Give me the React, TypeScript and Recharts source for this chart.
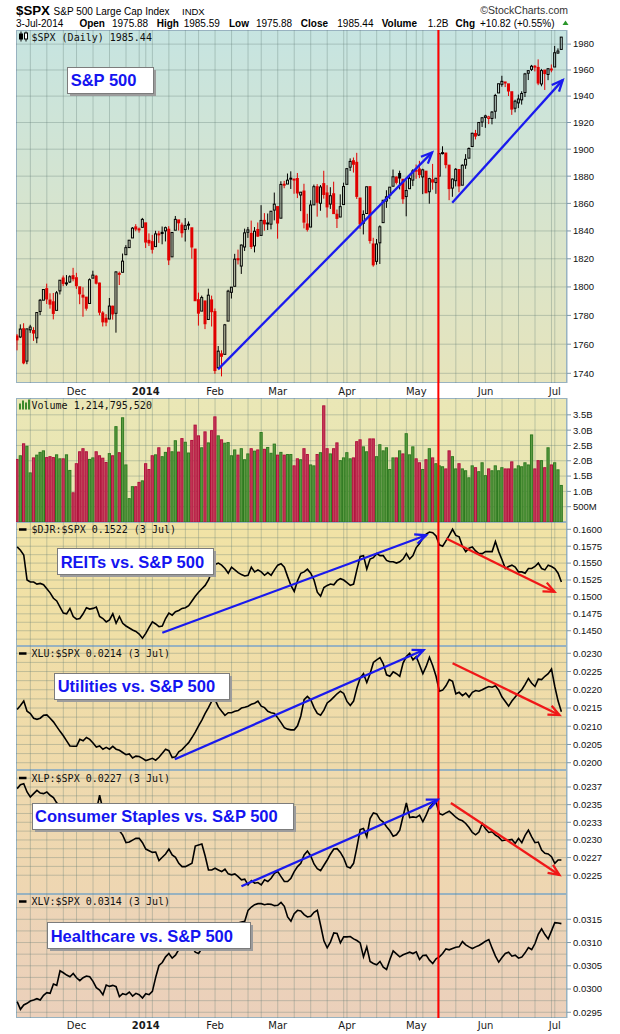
import React from "react";
import {
  Bar,
  CartesianGrid,
  ComposedChart,
  Line,
  ReferenceLine,
  XAxis,
  YAxis,
} from "recharts";

// trading sessions shown, 5-Nov-2013 .. 3-Jul-2014 (year, month index, days)
const SESSIONS: [number, number, number[]][] = [
  [2013, 10, [5, 6, 7, 8, 11, 12, 13, 14, 15, 18, 19, 20, 21, 22, 25, 26, 27, 29]],
  [2013, 11, [2, 3, 4, 5, 6, 9, 10, 11, 12, 13, 16, 17, 18, 19, 20, 23, 24, 26, 27, 30, 31]],
  [2014, 0, [2, 3, 6, 7, 8, 9, 10, 13, 14, 15, 16, 17, 21, 22, 23, 24, 27, 28, 29, 30, 31]],
  [2014, 1, [3, 4, 5, 6, 7, 10, 11, 12, 13, 14, 18, 19, 20, 21, 24, 25, 26, 27, 28]],
  [2014, 2, [3, 4, 5, 6, 7, 10, 11, 12, 13, 14, 17, 18, 19, 20, 21, 24, 25, 26, 27, 28, 31]],
  [2014, 3, [1, 2, 3, 4, 7, 8, 9, 10, 11, 14, 15, 16, 17, 21, 22, 23, 24, 25, 28, 29, 30]],
  [2014, 4, [1, 2, 5, 6, 7, 8, 9, 12, 13, 14, 15, 16, 19, 20, 21, 22, 23, 27, 28, 29, 30]],
  [2014, 5, [2, 3, 4, 5, 6, 9, 10, 11, 12, 13, 16, 17, 18, 19, 20, 23, 24, 25, 26, 27, 30]],
  [2014, 6, [1, 2, 3]],
];
const MONTH_LABELS = ["", "Dec", "2014", "Feb", "Mar", "Apr", "May", "Jun", "Jul"];

const PREV_CLOSE = 1767.93;

const OPEN = [
  1765.67, 1765.0, 1770.74, 1748.37, 1769.96, 1769.51, 1764.37, 1782.75, 1790.66, 1798.82, 1790.79, 1789.59, 1783.52, 1797.21, 1806.33, 1802.87, 1803.48, 1808.01,
  1806.55, 1800.1, 1794.15, 1792.82, 1788.36, 1806.21, 1807.6, 1802.76, 1781.71, 1777.98, 1777.48, 1786.47, 1781.46, 1809.0, 1810.39, 1822.92, 1828.02, 1834.96, 1842.97, 1841.47, 1842.61,
  1845.86, 1833.21, 1832.31, 1828.71, 1837.9, 1839.0, 1840.06, 1841.26, 1821.36, 1840.52, 1847.99, 1844.23, 1841.05, 1844.71, 1842.29, 1826.96, 1791.03, 1783.0, 1790.15, 1777.17, 1790.88,
  1782.68, 1743.82, 1753.38, 1752.99, 1776.01, 1796.2, 1800.45, 1820.12, 1814.82, 1828.46, 1839.03, 1838.22, 1829.24, 1841.07, 1836.78, 1847.66, 1845.79, 1844.9, 1855.12,
  1857.68, 1849.23, 1874.05, 1874.18, 1878.52, 1877.86, 1878.26, 1866.15, 1869.06, 1845.07, 1842.81, 1858.92, 1872.25, 1860.09, 1874.53, 1867.67, 1859.48, 1867.09, 1852.11, 1850.07, 1859.16,
  1873.96, 1886.61, 1891.43, 1890.25, 1863.92, 1845.48, 1852.64, 1872.28, 1830.65, 1818.18, 1831.45, 1846.01, 1861.73, 1865.79, 1872.57, 1879.32, 1881.97, 1877.72, 1865.0, 1870.78, 1877.1,
  1884.39, 1885.3, 1879.45, 1883.69, 1868.53, 1877.39, 1875.27, 1880.03, 1896.75, 1897.13, 1888.16, 1871.19, 1876.66, 1884.88, 1873.34, 1888.19, 1893.32, 1902.01, 1911.77, 1910.6, 1920.33,
  1923.87, 1923.07, 1923.06, 1928.52, 1942.41, 1948.97, 1950.34, 1949.37, 1943.35, 1930.8, 1934.84, 1937.15, 1942.73, 1957.5, 1960.45, 1962.92, 1961.97, 1949.27, 1959.89, 1956.56, 1960.79,
  1962.29, 1973.06, 1975.88,
];
const HIGH = [
  1767.03, 1773.74, 1774.54, 1770.78, 1773.44, 1771.78, 1782.0, 1791.53, 1798.22, 1802.33, 1795.51, 1795.73, 1797.16, 1804.84, 1808.1, 1808.42, 1808.27, 1813.55,
  1810.02, 1800.1, 1799.8, 1792.82, 1806.04, 1811.52, 1808.52, 1803.0, 1782.99, 1780.92, 1792.22, 1786.77, 1811.08, 1810.88, 1823.75, 1829.75, 1833.32, 1842.84, 1844.89, 1842.47, 1849.44,
  1845.86, 1838.24, 1837.16, 1840.1, 1840.02, 1843.23, 1843.15, 1843.45, 1839.26, 1850.84, 1847.99, 1846.04, 1849.31, 1846.87, 1842.29, 1826.96, 1795.98, 1793.87, 1790.15, 1798.77, 1793.88,
  1784.83, 1758.73, 1755.79, 1774.06, 1798.03, 1799.94, 1823.54, 1826.55, 1830.25, 1841.65, 1842.87, 1847.5, 1842.79, 1846.13, 1858.71, 1852.91, 1852.65, 1854.53, 1867.92,
  1857.68, 1876.23, 1876.53, 1881.94, 1883.57, 1877.87, 1882.35, 1868.38, 1874.4, 1852.44, 1862.3, 1873.76, 1874.14, 1873.49, 1883.97, 1873.34, 1871.87, 1875.92, 1855.55, 1866.63, 1875.18,
  1885.84, 1893.17, 1893.8, 1897.28, 1864.04, 1854.95, 1872.43, 1872.53, 1835.07, 1834.19, 1844.02, 1862.31, 1869.63, 1871.89, 1884.89, 1879.75, 1884.06, 1877.72, 1877.01, 1880.6, 1885.2,
  1888.59, 1891.33, 1885.51, 1883.69, 1878.83, 1889.07, 1878.57, 1897.13, 1902.17, 1897.13, 1888.16, 1878.28, 1886.0, 1884.88, 1888.8, 1896.33, 1901.26, 1912.28, 1914.46, 1920.03, 1924.03,
  1925.88, 1925.07, 1928.63, 1941.74, 1949.44, 1955.55, 1950.86, 1949.37, 1943.35, 1937.3, 1941.15, 1943.69, 1957.74, 1959.87, 1963.91, 1963.74, 1968.17, 1960.83, 1959.89, 1961.47, 1964.24,
  1978.58, 1976.67, 1985.59,
];
const LOW = [
  1755.76, 1764.23, 1746.2, 1746.23, 1767.85, 1762.29, 1760.64, 1780.22, 1790.66, 1788.0, 1784.72, 1777.23, 1783.52, 1794.7, 1800.58, 1800.77, 1802.77, 1803.98,
  1798.6, 1787.85, 1779.09, 1783.38, 1788.36, 1806.21, 1801.75, 1780.09, 1772.28, 1772.45, 1777.48, 1777.05, 1767.99, 1801.35, 1810.25, 1822.92, 1828.02, 1834.96, 1839.81, 1838.77, 1842.41,
  1827.74, 1829.13, 1823.73, 1828.71, 1831.4, 1830.38, 1832.43, 1815.52, 1821.36, 1840.52, 1840.3, 1835.23, 1832.38, 1840.88, 1820.06, 1790.29, 1772.88, 1783.0, 1770.45, 1777.17, 1772.26,
  1739.66, 1743.82, 1737.92, 1752.99, 1776.01, 1791.83, 1800.41, 1815.97, 1809.22, 1825.59, 1835.01, 1826.99, 1824.58, 1835.6, 1836.78, 1840.19, 1840.66, 1841.13, 1847.67,
  1834.44, 1849.23, 1871.11, 1874.18, 1870.56, 1867.04, 1863.88, 1854.38, 1841.86, 1839.57, 1842.81, 1858.92, 1850.35, 1854.63, 1863.46, 1849.69, 1855.96, 1852.56, 1842.11, 1850.07, 1859.16,
  1873.96, 1883.79, 1882.65, 1863.26, 1841.48, 1837.49, 1852.38, 1830.87, 1814.36, 1815.8, 1816.29, 1846.01, 1856.72, 1863.18, 1872.57, 1873.91, 1870.24, 1859.7, 1850.61, 1870.78, 1872.69,
  1878.04, 1878.5, 1866.77, 1867.72, 1859.79, 1870.05, 1867.02, 1880.03, 1896.06, 1885.77, 1862.36, 1864.82, 1872.42, 1868.14, 1873.34, 1885.39, 1893.32, 1902.01, 1907.3, 1909.82, 1916.64,
  1915.98, 1918.79, 1918.6, 1922.93, 1942.41, 1947.16, 1946.87, 1940.08, 1925.78, 1927.69, 1930.91, 1933.55, 1939.29, 1952.26, 1959.17, 1958.89, 1948.34, 1947.49, 1944.69, 1952.18, 1958.22,
  1962.29, 1972.58, 1975.88,
];
const CLOSE = [
  1762.97, 1770.49, 1747.15, 1770.61, 1771.89, 1767.69, 1782.0, 1790.62, 1798.18, 1791.53, 1787.87, 1781.37, 1795.85, 1804.76, 1802.48, 1802.75, 1807.23, 1805.81,
  1800.9, 1795.15, 1792.81, 1785.03, 1805.09, 1808.37, 1802.62, 1782.22, 1775.5, 1775.32, 1786.54, 1781.0, 1810.65, 1809.6, 1818.32, 1827.99, 1833.32, 1842.02, 1841.4, 1841.07, 1848.36,
  1831.98, 1831.37, 1826.77, 1837.88, 1837.49, 1838.13, 1842.37, 1819.2, 1838.88, 1848.38, 1845.89, 1838.7, 1843.8, 1844.86, 1828.46, 1790.29, 1781.56, 1792.5, 1774.2, 1794.19, 1782.59,
  1741.89, 1755.2, 1751.64, 1773.43, 1797.02, 1799.84, 1819.75, 1819.26, 1829.83, 1838.63, 1840.76, 1828.75, 1839.78, 1836.25, 1847.61, 1845.12, 1845.16, 1854.29, 1859.45,
  1845.73, 1873.91, 1873.81, 1877.03, 1878.04, 1877.17, 1867.63, 1868.2, 1846.34, 1841.13, 1858.83, 1872.25, 1860.77, 1872.01, 1866.52, 1857.44, 1865.62, 1852.56, 1849.04, 1857.62, 1872.34,
  1885.52, 1890.9, 1888.77, 1865.09, 1845.04, 1851.96, 1872.18, 1833.08, 1815.69, 1830.61, 1842.98, 1862.31, 1864.85, 1871.89, 1879.55, 1875.39, 1878.61, 1863.4, 1869.43, 1878.33, 1883.95,
  1883.68, 1881.14, 1884.66, 1867.72, 1878.21, 1875.63, 1878.48, 1896.65, 1897.45, 1888.53, 1870.85, 1877.86, 1885.08, 1872.83, 1888.03, 1892.49, 1900.53, 1911.91, 1909.78, 1920.03, 1923.57,
  1924.97, 1924.24, 1927.88, 1940.46, 1949.44, 1951.27, 1950.79, 1943.89, 1930.11, 1936.16, 1937.78, 1941.99, 1956.98, 1959.48, 1962.87, 1962.61, 1949.98, 1959.53, 1957.22, 1960.96, 1960.23,
  1973.32, 1974.62, 1985.44,
];
// billions of shares
const VOLUME = [
  2.06, 2.18, 2.57, 2.49, 1.62, 2.11, 2.2, 2.29, 2.34, 2.12, 2.15, 2.12, 2.21, 2.08, 2.08, 2.21, 1.7, 0.97,
  1.92, 2.31, 2.41, 2.31, 2.06, 2.11, 2.31, 2.18, 2.1, 1.96, 2.25, 2.18, 3.13, 2.28, 3.42, 1.88, 0.78, 1.17, 1.17, 1.31, 1.36,
  1.92, 1.73, 2.18, 2.21, 2.44, 2.15, 2.29, 2.44, 2.31, 2.67, 2.3, 2.74, 2.62, 2.27, 2.68, 3.18, 2.83, 2.44, 2.96, 2.6, 3.0,
  3.45, 2.83, 2.7, 2.59, 2.61, 2.18, 2.37, 2.2, 2.41, 2.05, 2.24, 2.41, 2.33, 2.37, 2.94, 2.39, 2.45, 2.26, 2.56,
  2.2, 2.29, 2.2, 2.22, 2.22, 1.85, 2.08, 2.05, 2.41, 2.22, 1.88, 1.85, 2.22, 2.28, 3.81, 2.41, 2.24, 2.41, 2.6, 2.02, 2.11,
  2.28, 2.08, 2.11, 2.64, 2.7, 2.47, 2.31, 2.73, 2.73, 2.15, 2.54, 2.34, 2.44, 1.73, 2.11, 2.11, 2.34, 2.24, 2.9, 2.21, 2.47,
  2.08, 1.95, 1.73, 2.05, 2.41, 2.11, 1.92, 1.85, 1.82, 1.75, 2.34, 2.15, 1.75, 1.92, 1.75, 1.69, 1.46, 1.85, 1.79, 1.66, 1.95,
  1.53, 1.75, 1.69, 1.85, 1.69, 1.79, 1.75, 1.75, 1.98, 1.75, 1.85, 1.82, 1.95, 1.88, 2.86, 1.75, 2.02, 2.02, 1.79, 2.44, 1.88,
  1.95, 1.72, 1.21,
];
const DJR_SPX = [
  0.1574, 0.1569, 0.1562, 0.1525, 0.1522, 0.1522, 0.1519, 0.152, 0.1518, 0.1512, 0.1506, 0.1498, 0.1494, 0.1485, 0.1476, 0.1475, 0.1483, 0.1471,
  0.1467, 0.1468, 0.1475, 0.1484, 0.1482, 0.1483, 0.1485, 0.1471, 0.1468, 0.1463, 0.1466, 0.1475, 0.1461, 0.1471, 0.1461, 0.1457, 0.1454, 0.1451, 0.1449, 0.1445, 0.1439,
  0.1446, 0.1455, 0.1463, 0.146, 0.1456, 0.1457, 0.1468, 0.1476, 0.1473, 0.1478, 0.148, 0.1483, 0.1484, 0.1487, 0.1494, 0.1501, 0.1507, 0.1512, 0.1517, 0.1525, 0.1537,
  0.1548, 0.155, 0.1547, 0.1542, 0.1535, 0.1544, 0.154, 0.1536, 0.1533, 0.1531, 0.1532, 0.1544, 0.1537, 0.154, 0.1537, 0.1532, 0.1536, 0.1532, 0.154,
  0.1547, 0.1549, 0.1544, 0.153, 0.1517, 0.1508, 0.1524, 0.1535, 0.1537, 0.1541, 0.1535, 0.1525, 0.1507, 0.1501, 0.1514, 0.1517, 0.1519, 0.1518, 0.1524, 0.1527, 0.1525,
  0.1521, 0.1517, 0.1519, 0.154, 0.156, 0.1561, 0.1541, 0.1556, 0.1558, 0.1564, 0.1561, 0.1561, 0.1554, 0.1552, 0.1552, 0.155, 0.1552, 0.1556, 0.1564, 0.1556, 0.1561,
  0.1573, 0.1579, 0.1587, 0.1593, 0.1596, 0.1595, 0.159, 0.1577, 0.1575, 0.1583, 0.1591, 0.16, 0.1591, 0.1589, 0.1575, 0.1567, 0.1572, 0.1574, 0.1568, 0.1564, 0.1564,
  0.1567, 0.1567, 0.1567, 0.1582, 0.1567, 0.1555, 0.1542, 0.1545, 0.1547, 0.1544, 0.1537, 0.1537, 0.1535, 0.1542, 0.1542, 0.1545, 0.155, 0.1542, 0.154, 0.1547, 0.1545,
  0.1542, 0.1535, 0.1522,
];
const XLU_SPX = [
  0.02146, 0.02157, 0.02169, 0.02141, 0.02135, 0.02122, 0.02119, 0.02122, 0.0213, 0.02131, 0.02122, 0.02112, 0.02099, 0.02086, 0.02074, 0.0206, 0.02046, 0.02045,
  0.02045, 0.02064, 0.0206, 0.02069, 0.02064, 0.02054, 0.02043, 0.02046, 0.02037, 0.02042, 0.02037, 0.02045, 0.02037, 0.02034, 0.02028, 0.02022, 0.02024, 0.02013, 0.02018, 0.02017, 0.02012,
  0.02006, 0.02009, 0.02012, 0.02007, 0.02015, 0.02026, 0.02037, 0.02033, 0.02014, 0.02016, 0.0203, 0.02036, 0.02046, 0.02055, 0.02069, 0.02084, 0.02101, 0.02117, 0.02135, 0.02151, 0.02169,
  0.02173, 0.02153, 0.02141, 0.0213, 0.02137, 0.02137, 0.02141, 0.02143, 0.0215, 0.02152, 0.02155, 0.0216, 0.02163, 0.02169, 0.02155, 0.02151, 0.02141, 0.02137, 0.02135,
  0.02123, 0.0211, 0.02096, 0.02092, 0.0209, 0.0209, 0.02101, 0.02128, 0.02173, 0.02182, 0.02173, 0.02151, 0.02135, 0.0213, 0.02144, 0.02164, 0.02171, 0.0218, 0.02189, 0.02196, 0.0219,
  0.02168, 0.02157, 0.02169, 0.02205, 0.02232, 0.02244, 0.0222, 0.02244, 0.02275, 0.02282, 0.02288, 0.02271, 0.02241, 0.02237, 0.02249, 0.02244, 0.02237, 0.02273, 0.02291, 0.023, 0.02282,
  0.02291, 0.02268, 0.02244, 0.02264, 0.02289, 0.02266, 0.02237, 0.02196, 0.02199, 0.02211, 0.02228, 0.02223, 0.02189, 0.02193, 0.02184, 0.02191, 0.0218, 0.02193, 0.02198, 0.02196, 0.022,
  0.02205, 0.02209, 0.02207, 0.02211, 0.02199, 0.0218, 0.02168, 0.02155, 0.02169, 0.0218, 0.02191, 0.022, 0.02215, 0.02231, 0.02218, 0.02209, 0.02229, 0.02228, 0.02237, 0.02244, 0.02257,
  0.02209, 0.02169, 0.0214,
];
const XLP_SPX = [
  0.023727, 0.023783, 0.023797, 0.02368, 0.023609, 0.023656, 0.023703, 0.023665, 0.023656, 0.02368, 0.023633, 0.0236, 0.023524, 0.023492, 0.023459, 0.023477, 0.023421, 0.02344,
  0.023398, 0.023374, 0.023412, 0.023355, 0.023365, 0.023383, 0.023412, 0.023633, 0.02343, 0.023374, 0.023304, 0.023242, 0.023139, 0.02313, 0.023069, 0.022961, 0.02297, 0.022998, 0.023022, 0.023022, 0.022961,
  0.022871, 0.022848, 0.022824, 0.022829, 0.022707, 0.022754, 0.022801, 0.022871, 0.022787, 0.022754, 0.022669, 0.022622, 0.022622, 0.022646, 0.022669, 0.022914, 0.022928, 0.022942, 0.022773, 0.022575, 0.022575,
  0.022599, 0.022575, 0.022552, 0.022585, 0.022519, 0.022505, 0.022519, 0.022481, 0.022434, 0.022444, 0.022364, 0.022425, 0.022387, 0.022397, 0.022364, 0.022434, 0.022411, 0.022458, 0.022528,
  0.022552, 0.022481, 0.022411, 0.022411, 0.022458, 0.022552, 0.022622, 0.022669, 0.022787, 0.022843, 0.022773, 0.02266, 0.022594, 0.022566, 0.022641, 0.022716, 0.022801, 0.022871, 0.022876, 0.022824, 0.022744,
  0.022622, 0.022603, 0.022669, 0.022895, 0.023148, 0.023163, 0.023045, 0.023304, 0.023383, 0.023369, 0.023289, 0.023252, 0.023186, 0.02313, 0.023054, 0.023073, 0.023139, 0.023336, 0.023524, 0.023318, 0.023327,
  0.023318, 0.023351, 0.023257, 0.023351, 0.023459, 0.023515, 0.023534, 0.023374, 0.023355, 0.023383, 0.023407, 0.023365, 0.023322, 0.023289, 0.023271, 0.023233, 0.023177, 0.023106, 0.023073, 0.023111, 0.023233,
  0.023158, 0.023106, 0.023116, 0.023069, 0.02304, 0.022989, 0.022998, 0.022998, 0.023008, 0.022951, 0.023022, 0.022961, 0.023064, 0.023139, 0.023045, 0.022961, 0.02297, 0.022857, 0.02281, 0.022801, 0.022763,
  0.022669, 0.022716, 0.022716,
];
const XLV_SPX = [
  0.029729, 0.029564, 0.029657, 0.029693, 0.029743, 0.029764, 0.029793, 0.029764, 0.029864, 0.029921, 0.029907, 0.030107, 0.030079, 0.030393, 0.03035, 0.0303, 0.030264, 0.030336,
  0.030243, 0.030179, 0.030243, 0.030279, 0.030264, 0.030164, 0.030029, 0.029979, 0.029879, 0.030086, 0.030057, 0.030079, 0.03005, 0.029836, 0.0299, 0.029879, 0.029936, 0.02985, 0.029907, 0.029879, 0.029807,
  0.0299, 0.029879, 0.02995, 0.03025, 0.030507, 0.030571, 0.030693, 0.030764, 0.030664, 0.030729, 0.03085, 0.030943, 0.030993, 0.031036, 0.030907, 0.030793, 0.030764, 0.030871, 0.030943, 0.030993, 0.031064,
  0.031121, 0.031157, 0.031207, 0.03125, 0.031279, 0.031321, 0.031371, 0.031421, 0.031443, 0.031457, 0.031693, 0.031764, 0.031814, 0.031836, 0.031836, 0.031814, 0.031829, 0.031821, 0.031793,
  0.0318, 0.031864, 0.031779, 0.03155, 0.031457, 0.031621, 0.031693, 0.031679, 0.0316, 0.03155, 0.031564, 0.03165, 0.031693, 0.031371, 0.031036, 0.030886, 0.031014, 0.031207, 0.031193, 0.030993, 0.031121,
  0.031121, 0.031129, 0.031079, 0.031043, 0.030993, 0.030693, 0.030907, 0.030593, 0.03055, 0.030521, 0.030593, 0.030471, 0.030421, 0.030636, 0.030821, 0.030757, 0.030693, 0.030736, 0.030764, 0.030793, 0.030764,
  0.0308, 0.030636, 0.030721, 0.030729, 0.030621, 0.03055, 0.03065, 0.030693, 0.030764, 0.030864, 0.030843, 0.030871, 0.0309, 0.030907, 0.031021, 0.03095, 0.030907, 0.030871, 0.030907, 0.030936, 0.030979,
  0.031029, 0.031064, 0.030879, 0.030707, 0.030579, 0.030679, 0.030764, 0.030793, 0.030707, 0.030729, 0.030664, 0.030686, 0.030779, 0.030893, 0.03085, 0.030979, 0.031179, 0.031293, 0.031171, 0.031079, 0.03125,
  0.031429, 0.031421, 0.031407,
];

const PRICE_TICKS = [1740, 1760, 1780, 1800, 1820, 1840, 1860, 1880, 1900, 1920, 1940, 1960, 1980];
const VOL_TICKS = [0.5, 1, 1.5, 2, 2.5, 3, 3.5];
const DJR_TICKS = [0.145, 0.1475, 0.15, 0.1525, 0.155, 0.1575, 0.16];
const XLU_TICKS = [0.02, 0.0205, 0.021, 0.0215, 0.022, 0.0225, 0.023];
const XLP_TICKS = [0.0225, 0.02275, 0.023, 0.02325, 0.0235, 0.02375];
const XLP_TICK_LABELS = ["0.0225", "0.0227", "0.0230", "0.0233", "0.0235", "0.0237"];
const XLV_TICKS = [0.0295, 0.03, 0.0305, 0.031, 0.0315];

// annotations drawn on the original (session index, value)
const RED_LINE_AT = 127.7;
const PRICE_ARROWS = [
  { from: [60.9, 1742.7], to: [125.8, 1897.6], color: "#1a1aee" },
  { from: [131.9, 1860.4], to: [165.4, 1952.2], color: "#1a1aee" },
];
const DJR_ARROWS = [
  { from: [44.0, 0.1447], to: [124.0, 0.15912], color: "#1a1aee" },
  { from: [130.1, 0.15863], to: [162.9, 0.15075], color: "#f01818" },
];
const XLU_ARROWS = [
  { from: [47.8, 0.020093], to: [123.2, 0.02309], color: "#1a1aee" },
  { from: [132.0, 0.022726], to: [164.4, 0.021308], color: "#f01818" },
];
const XLP_ARROWS = [
  { from: [68.0, 0.022344], to: [127.5, 0.02357], color: "#1a1aee" },
  { from: [131.5, 0.023523], to: [164.4, 0.022504], color: "#f01818" },
];

// ---- layout ----
const W = 620;
const PLOT_L = 16;
const AXIS_W = 53;
const PLOT_R = W - AXIS_W;
const X_DOMAIN: [number, number] = [-0.35, 166.7];
const GRID = "rgba(95,120,115,0.33)";
const BORDER = "#98b2c0";

const dates: Date[] = [];
const monthStarts: number[] = [];
SESSIONS.forEach(([y, m, days]) => {
  monthStarts.push(dates.length);
  days.forEach((d) => dates.push(new Date(Date.UTC(y, m, d))));
});
const monthTicks = monthStarts.slice(1);
const weekStarts = dates
  .map((d, i) => (i > 0 && d.getUTCDay() < dates[i - 1].getUTCDay() ? i : -1))
  .filter((i) => i >= 0);
const gridX = Array.from(new Set([...weekStarts, ...monthTicks])).sort((a, b) => a - b);

const rows = dates.map((d, i) => ({
  i,
  open: OPEN[i],
  high: HIGH[i],
  low: LOW[i],
  close: CLOSE[i],
  up: CLOSE[i] >= (i ? CLOSE[i - 1] : PREV_CLOSE),
  vol: VOLUME[i],
  djr: DJR_SPX[i],
  xlu: XLU_SPX[i],
  xlp: XLP_SPX[i],
  xlv: XLV_SPX[i],
}));

const steps = (a: number, b: number, s: number) => {
  const out: number[] = [];
  for (let k = 0; a + k * s <= b + s / 1000; k++) out.push(+(a + k * s).toFixed(7));
  return out;
};

const PANELS = {
  price: { top: 30, h: 353, c1: "#c6e4e1", c2: "#e6e4bc" },
  vol: { top: 398, h: 124, c1: "#eae7b6", c2: "#e9e5b0" },
  djr: { top: 522, h: 124, c1: "#f1e3a6", c2: "#f0dfa6" },
  xlu: { top: 646, h: 124, c1: "#f0dea8", c2: "#efdaab" },
  xlp: { top: 770, h: 124, c1: "#efdaae", c2: "#eed6b2" },
  xlv: { top: 894, h: 124, c1: "#edd5b6", c2: "#ebd0bb" },
};

const axisTick = { fontSize: 9.5, fontFamily: "Liberation Sans", fill: "#111" };

function monthTick(dy: number) {
  return (p: any) => {
    const label = MONTH_LABELS[monthStarts.indexOf(p.payload.value)];
    return (
      <text
        x={p.x}
        y={p.y + dy}
        textAnchor="middle"
        fontSize={10}
        fontFamily="DejaVu Sans"
        fontWeight={label === "2014" ? "bold" : "normal"}
        fill="#1a1a1a"
      >
        {label}
      </text>
    );
  };
}

const arrowShape = (color: string) => (p: any) => {
  const { x1, y1, x2, y2 } = p;
  const a = Math.atan2(y2 - y1, x2 - x1);
  const L = 12;
  const s = 0.42;
  const pts = `${x2 - L * Math.cos(a - s)},${y2 - L * Math.sin(a - s)} ${x2},${y2} ${x2 - L * Math.cos(a + s)},${y2 - L * Math.sin(a + s)}`;
  return (
    <g>
      <line x1={x1} y1={y1} x2={x2} y2={y2} stroke={color} strokeWidth={2.3} />
      <polyline points={pts} fill="none" stroke={color} strokeWidth={2.3} />
    </g>
  );
};

function Candle(props: any) {
  const { x, y, width, height, payload } = props;
  if (!payload || height == null || isNaN(y)) return null;
  const cx = x + width / 2;
  const lh = Math.log(payload.high);
  const ll = Math.log(payload.low);
  const span = lh - ll || 1e-9;
  const py = (v: number) => y + ((lh - Math.log(v)) / span) * height;
  const color = payload.up ? "#000000" : "#e00000";
  const hollow = payload.close > payload.open;
  const yo = py(payload.open);
  const yc = py(payload.close);
  const top = Math.min(yo, yc);
  const bh = Math.max(Math.abs(yo - yc), 1);
  return (
    <g>
      <line x1={cx} x2={cx} y1={y} y2={top} stroke={color} strokeWidth={1} />
      <line x1={cx} x2={cx} y1={top + bh} y2={y + height} stroke={color} strokeWidth={1} />
      {hollow ? (
        <rect x={cx - 1} y={top} width={2} height={bh} fill="none" stroke={color} strokeWidth={1} />
      ) : (
        <rect x={cx - 1.5} y={top - 0.5} width={3} height={bh + 1} fill={color} />
      )}
    </g>
  );
}

function VolBar(props: any) {
  const { x, y, width, height, payload } = props;
  if (!payload || height == null) return null;
  const cx = x + width / 2;
  return (
    <rect
      x={cx - 1.1}
      y={y + 0.5}
      width={2.2}
      height={Math.max(height - 0.5, 0)}
      fill={payload.up ? "#5c9b42" : "#c63d5d"}
      stroke={payload.up ? "#2e7a20" : "#b0103c"}
      strokeWidth={1}
    />
  );
}

function xAxisProps(show: boolean, dy: number, height: number) {
  return {
    type: "number" as const,
    dataKey: "i",
    domain: X_DOMAIN,
    allowDataOverflow: true,
    ticks: monthTicks,
    interval: 0 as const,
    hide: !show,
    height: show ? height : 0,
    tickLine: false,
    axisLine: false,
    tickSize: 0,
    tickMargin: 0,
    tick: monthTick(dy),
  };
}

function yAxisProps(domain: number[], ticks: number[], fmt: (v: number) => string) {
  return {
    orientation: "right" as const,
    width: AXIS_W,
    domain,
    allowDataOverflow: true,
    ticks,
    interval: 0 as const,
    tickFormatter: fmt,
    tick: axisTick,
    tickSize: 4,
    tickMargin: 2,
    stroke: "#7d98a8",
    axisLine: { stroke: BORDER },
  };
}

function RatioPanel(props: {
  p: { top: number; h: number };
  dataKey: string;
  domain: number[];
  ticks: number[];
  grid: number[];
  fmt: (v: number) => string;
  arrows?: { from: number[]; to: number[]; color: string }[];
  xLabels?: boolean;
}) {
  const { p, dataKey, domain, ticks, grid, fmt, arrows = [], xLabels = false } = props;
  const axisH = xLabels ? 16 : 0;
  return (
    <div style={{ position: "absolute", left: 0, top: p.top }}>
      <ComposedChart width={W} height={p.h + axisH} data={rows} margin={{ top: 0, right: 0, bottom: 0, left: PLOT_L }}>
        <CartesianGrid stroke={GRID} horizontalValues={grid} verticalValues={gridX} />
        <XAxis {...xAxisProps(xLabels, 11, axisH)} />
        <YAxis {...yAxisProps(domain, ticks, fmt)} />
        <Line dataKey={dataKey} type="linear" stroke="#000" strokeWidth={1.6} dot={false} isAnimationActive={false} />
        <ReferenceLine x={RED_LINE_AT} stroke="#ff0000" strokeWidth={2} />
        {arrows.map((a, k) => (
          <ReferenceLine
            key={k}
            segment={[
              { x: a.from[0], y: a.from[1] },
              { x: a.to[0], y: a.to[1] },
            ]}
            ifOverflow="visible"
            shape={arrowShape(a.color)}
          />
        ))}
      </ComposedChart>
    </div>
  );
}

function TextBox({ x, y, w, tx, ty, text }: { x: number; y: number; w: number; tx: number; ty: number; text: string }) {
  return (
    <g>
      <rect x={x + 3} y={y + 3} width={w} height={26} fill="#9c9c9c" />
      <rect x={x + 0.5} y={y + 0.5} width={w} height={26} fill="#ffffff" stroke="#7c7c7c" strokeWidth={1} />
      <text x={tx} y={ty} fontFamily="Liberation Sans" fontWeight="bold" fontSize={16.5} fill="#1414f0">
        {text}
      </text>
    </g>
  );
}

function PanelTitle({ y, text, icon }: { y: number; text: string; icon: "candle" | "vol" | "line" }) {
  return (
    <g>
      {icon === "line" && <line x1={19} x2={26.5} y1={y - 3.5} y2={y - 3.5} stroke="#000" strokeWidth={2.5} />}
      {icon === "vol" && (
        <g fill="#3d8a2a">
          <rect x={19} y={y - 5} width={2} height={6} />
          <rect x={22} y={y - 8} width={2} height={9} />
          <rect x={25} y={y - 6} width={2} height={7} />
          <rect x={28} y={y - 9} width={2} height={10} />
        </g>
      )}
      {icon === "candle" && (
        <g stroke="#000" strokeWidth={1}>
          <line x1={21} x2={21} y1={y - 9} y2={y + 1} />
          <rect x={19.5} y={y - 6.5} width={3} height={5} fill="#000" />
          <line x1={26} x2={26} y1={y - 9} y2={y + 1} />
          <rect x={24.5} y={y - 7.5} width={3} height={6} fill="#fff" />
        </g>
      )}
      <text x={31.5} y={y} fontFamily="DejaVu Sans Mono" fontSize={10} fill="#111">
        {text}
      </text>
    </g>
  );
}

export default function App() {
  const pr = PANELS.price;
  const vp = PANELS.vol;
  const panelList = Object.entries(PANELS);
  return (
    <div style={{ position: "absolute", left: 0, top: 0, width: W, height: 1034, background: "#ffffff", overflow: "hidden" }}>
      {/* panel backgrounds */}
      <svg width={W} height={1034} style={{ position: "absolute", left: 0, top: 0 }}>
        <defs>
          {panelList.map(([k, p]) => (
            <linearGradient key={k} id={`bg-${k}`} x1="0" y1="0" x2="0" y2="1">
              <stop offset="0" stopColor={p.c1} />
              <stop offset="1" stopColor={p.c2} />
            </linearGradient>
          ))}
        </defs>
        {panelList.map(([k, p]) => (
          <rect key={k} x={PLOT_L + 0.5} y={p.top + 0.5} width={PLOT_R - PLOT_L - 1} height={p.h - 1} fill={`url(#bg-${k})`} stroke={BORDER} strokeWidth={1} />
        ))}
      </svg>

      {/* price */}
      <div style={{ position: "absolute", left: 0, top: pr.top }}>
        <ComposedChart width={W} height={pr.h + 15} data={rows} margin={{ top: 0, right: 0, bottom: 0, left: PLOT_L }}>
          <CartesianGrid stroke={GRID} horizontalValues={PRICE_TICKS} verticalValues={gridX} />
          <XAxis {...xAxisProps(true, 12, 15)} />
          <YAxis {...yAxisProps([1733.4, 1991], PRICE_TICKS, (v) => String(v))} scale="log" />
          <Bar dataKey={(d: any) => [d.low, d.high]} barSize={3} shape={<Candle />} isAnimationActive={false} />
          <ReferenceLine
            segment={[
              { x: RED_LINE_AT, y: 1723.2 },
              { x: RED_LINE_AT, y: 1991 },
            ]}
            ifOverflow="visible"
            stroke="#ff0000"
            strokeWidth={2}
          />
          {PRICE_ARROWS.map((a, k) => (
            <ReferenceLine
              key={k}
              segment={[
                { x: a.from[0], y: a.from[1] },
                { x: a.to[0], y: a.to[1] },
              ]}
              ifOverflow="visible"
              shape={arrowShape(a.color)}
            />
          ))}
        </ComposedChart>
      </div>

      {/* volume */}
      <div style={{ position: "absolute", left: 0, top: vp.top }}>
        <ComposedChart width={W} height={vp.h} data={rows} margin={{ top: 0, right: 0, bottom: 0, left: PLOT_L }}>
          <CartesianGrid stroke={GRID} horizontalValues={VOL_TICKS} verticalValues={gridX} />
          <XAxis {...xAxisProps(false, 0, 0)} />
          <YAxis
            {...yAxisProps([0, 4.05], VOL_TICKS, (v) => (v < 1 ? `${Math.round(v * 1000)}M` : `${v.toFixed(1)}B`))}
          />
          <Bar dataKey="vol" barSize={3} shape={<VolBar />} isAnimationActive={false} />
          <ReferenceLine x={RED_LINE_AT} stroke="#ff0000" strokeWidth={2} />
        </ComposedChart>
      </div>

      <RatioPanel
        p={PANELS.djr}
        dataKey="djr"
        domain={[0.14274, 0.16108]}
        ticks={DJR_TICKS}
        grid={steps(0.14375, 0.16, 0.00125)}
        fmt={(v) => v.toFixed(4)}
        arrows={DJR_ARROWS}
      />
      <RatioPanel
        p={PANELS.xlu}
        dataKey="xlu"
        domain={[0.0198, 0.0232]}
        ticks={XLU_TICKS}
        grid={steps(0.02, 0.023, 0.00025)}
        fmt={(v) => v.toFixed(4)}
        arrows={XLU_ARROWS}
      />
      <RatioPanel
        p={PANELS.xlp}
        dataKey="xlp"
        domain={[0.022234, 0.023991]}
        ticks={XLP_TICKS}
        grid={steps(0.0225, 0.023875, 0.000125)}
        fmt={(v) => XLP_TICK_LABELS[XLP_TICKS.indexOf(v)] ?? v.toFixed(4)}
        arrows={XLP_ARROWS}
      />
      <RatioPanel
        p={PANELS.xlv}
        dataKey="xlv"
        domain={[0.029377, 0.032044]}
        ticks={XLV_TICKS}
        grid={steps(0.0295, 0.03175, 0.00025)}
        fmt={(v) => v.toFixed(4)}
        xLabels
      />

      {/* header, panel titles and callout boxes */}
      <svg width={W} height={1034} style={{ position: "absolute", left: 0, top: 0, pointerEvents: "none" }}>
        <g fontFamily="Liberation Sans" fill="#000">
          <text x={16} y={14.5} fontSize={13.5} fontWeight="bold" textLength={34} lengthAdjust="spacingAndGlyphs">
            $SPX
          </text>
          <text x={53.6} y={14.5} fontSize={10}>S&amp;P 500 Large Cap Index</text>
          <text x={182} y={14.5} fontSize={9.5}>INDX</text>
          <text x={568} y={14} fontSize={10.5} textAnchor="end" fill="#333">
            ©StockCharts.com
          </text>
          <g fontSize={10}>
            <text x={16} y={27}>3-Jul-2014</text>
            <text x={79.4} y={27} fontWeight="bold">Open</text>
            <text x={112} y={27}>1975.88</text>
            <text x={156.7} y={27} fontWeight="bold">High</text>
            <text x={183.7} y={27}>1985.59</text>
            <text x={229} y={27} fontWeight="bold">Low</text>
            <text x={256} y={27}>1975.88</text>
            <text x={300.8} y={27} fontWeight="bold">Close</text>
            <text x={337.3} y={27}>1985.44</text>
            <text x={381.7} y={27} fontWeight="bold">Volume</text>
            <text x={427.8} y={27}>1.2B</text>
            <text x={455.6} y={27} fontWeight="bold">Chg</text>
            <text x={480} y={27}>+10.82 (+0.55%)</text>
          </g>
          <path d="M562.5 25 L565.5 20.5 L568.5 25 Z" fill="#2a962a" />
        </g>

        <PanelTitle y={40.5} text="$SPX (Daily) 1985.44" icon="candle" />
        <PanelTitle y={408.5} text="Volume 1,214,795,520" icon="vol" />
        <PanelTitle y={533} text="$DJR:$SPX 0.1522 (3 Jul)" icon="line" />
        <PanelTitle y={657} text="XLU:$SPX 0.0214 (3 Jul)" icon="line" />
        <PanelTitle y={781.5} text="XLP:$SPX 0.0227 (3 Jul)" icon="line" />
        <PanelTitle y={905} text="XLV:$SPX 0.0314 (3 Jul)" icon="line" />

        <TextBox x={67} y={67} w={86} tx={70.7} ty={86} text="S&P 500" />
        <TextBox x={57} y={548} w={156} tx={60.7} ty={567.5} text="REITs vs. S&P 500" />
        <TextBox x={54} y={673} w={175} tx={57.7} ty={692} text="Utilities vs. S&P 500" />
        <TextBox x={32} y={803} w={261} tx={35} ty={822} text="Consumer Staples vs. S&P 500" />
        <TextBox x={47} y={922} w={203} tx={50.7} ty={941.7} text="Healthcare vs. S&P 500" />
      </svg>
    </div>
  );
}
